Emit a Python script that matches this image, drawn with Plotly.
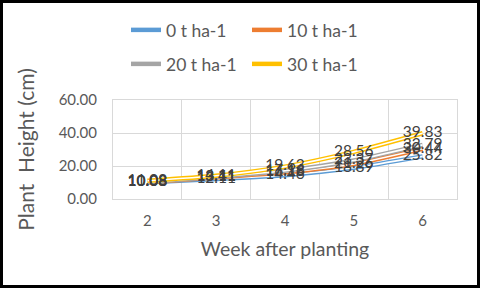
import plotly.graph_objects as go

weeks = ["2", "3", "4", "5", "6"]
series_names = ["0 t ha-1", "10 t ha-1", "20 t ha-1", "30 t ha-1"]
h0 = [10.08, 12.11, 14.46, 18.89, 25.82]
h10 = [10.03, 13.11, 16.18, 21.26, 30.44]
h20 = [10.08, 13.41, 17.16, 23.37, 32.79]
h30 = [11.08, 14.11, 19.63, 28.56, 39.83]
series_values = [h0, h10, h20, h30]
colors = ["#5B9BD5", "#ED7D31", "#A5A5A5", "#FFC000"]
legend_ids = ["legend", "legend", "legend2", "legend2"]
y_ticks = [0, 20, 40, 60]

FONT = "Lato, Carlito, 'Liberation Sans', sans-serif"
fig = go.Figure()

for name, vals, col, lg in zip(series_names, series_values, colors, legend_ids):
    fig.add_trace(go.Scatter(
        x=weeks, y=vals, name=name, mode="lines",
        line=dict(color=col, width=4.5, shape="spline", smoothing=0.6),
        legend=lg,
    ))
    fig.add_trace(go.Scatter(
        x=weeks, y=vals, mode="lines", showlegend=False, hoverinfo="skip",
        line=dict(color="white", width=1.6, shape="spline", smoothing=0.6),
    ))

for vals in series_values:
    fig.add_trace(go.Scatter(
        x=weeks, y=vals, mode="text", showlegend=False,
        text=[f"{v:.2f}" for v in vals], textposition="middle center",
        textfont=dict(family=FONT, size=15.5, color="#404040"),
    ))

L, R, T, B = 113, 23, 100, 89
W, H = 480, 288
pw, ph = W - L - R, H - T - B

def px(x):
    return (x - L) / pw

def py(y):
    return (H - B - y) / ph

fig.add_shape(type="rect", xref="paper", yref="paper",
              x0=px(1.5), x1=px(478.5), y0=py(1.5), y1=py(286.5),
              line=dict(color="black", width=3), fillcolor="rgba(0,0,0,0)", layer="above")

fig.update_layout(
    width=W, height=H,
    margin=dict(l=L, r=R, t=T, b=B, autoexpand=False),
    paper_bgcolor="white", plot_bgcolor="white",
    font=dict(family=FONT, color="#595959"),
    legend=dict(orientation="h", x=px(126), y=py(30), xanchor="left", yanchor="middle",
                font=dict(size=17.5, color="#595959"), entrywidth=76, bgcolor="rgba(0,0,0,0)"),
    legend2=dict(orientation="h", x=px(126), y=py(64), xanchor="left", yanchor="middle",
                 font=dict(size=17.5, color="#595959"), entrywidth=76, bgcolor="rgba(0,0,0,0)"),
    xaxis=dict(type="category", tickson="boundaries", range=[-0.5, 4.5],
               showgrid=True, gridcolor="#D9D9D9",
               showline=True, linecolor="#D9D9D9", mirror=True, automargin=False,
               ticks="", ticklabelstandoff=8,
               tickfont=dict(size=15, color="#595959"),
               title=dict(text="Week after planting", font=dict(size=19.5, color="#595959"), standoff=14)),
    yaxis=dict(range=[0, 60], tickvals=y_ticks, tickformat=".2f", showgrid=True, gridcolor="#D9D9D9",
               showline=True, linecolor="#D9D9D9", mirror=True, zeroline=False, automargin=False,
               ticks="outside", ticklen=12, tickcolor="rgba(0,0,0,0)",
               tickfont=dict(size=15, color="#595959"),
               title=dict(text="Plant  Height (cm)", font=dict(size=21, color="#595959"), standoff=18)),
)

fig.write_html("out.html", config={"displayModeBar": False},
               post_script="document.body.style.margin='0px';")
